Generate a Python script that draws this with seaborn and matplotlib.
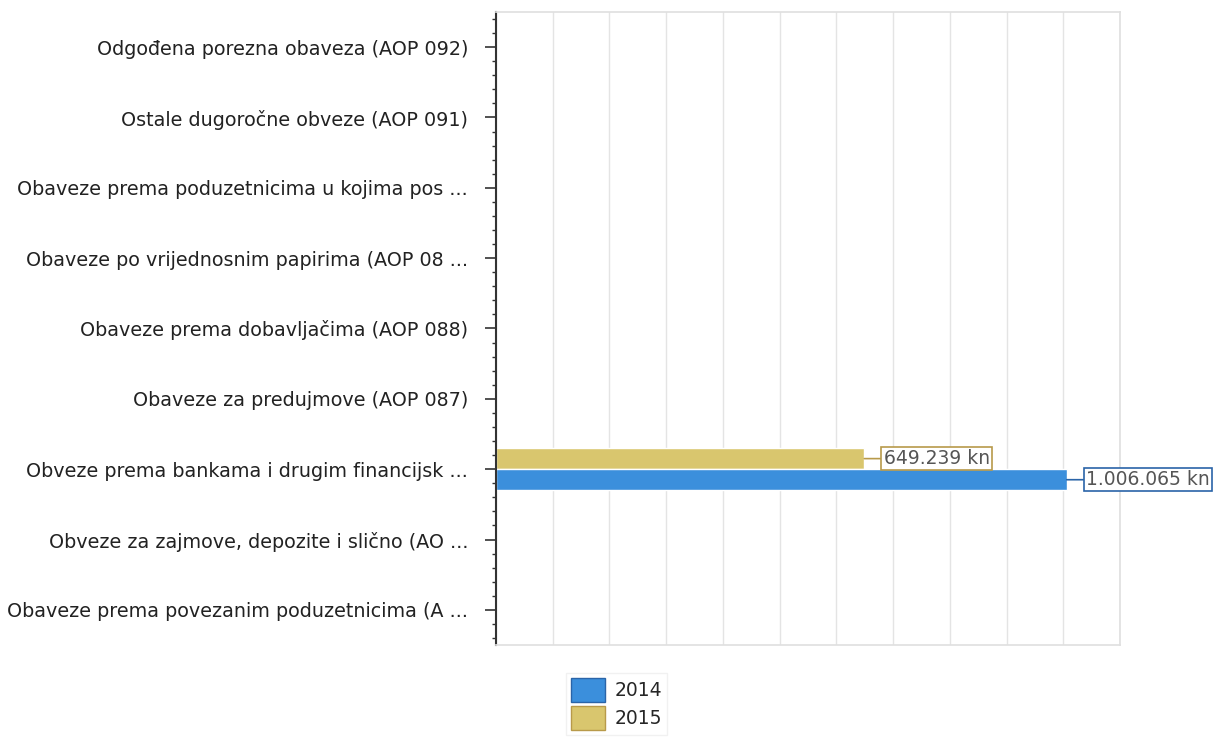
import matplotlib
matplotlib.use("Agg")
import matplotlib.pyplot as plt
import seaborn as sns
import pandas as pd
from matplotlib.patches import Patch
from matplotlib.ticker import MultipleLocator, AutoMinorLocator

categories = [
    "Odgođena porezna obaveza (AOP 092)",
    "Ostale dugoročne obveze (AOP 091)",
    "Obaveze prema poduzetnicima u kojima pos ...",
    "Obaveze po vrijednosnim papirima (AOP 08 ...",
    "Obaveze prema dobavljačima (AOP 088)",
    "Obaveze za predujmove (AOP 087)",
    "Obveze prema bankama i drugim financijsk ...",
    "Obveze za zajmove, depozite i slično (AO ...",
    "Obaveze prema povezanim poduzetnicima (A ...",
]
values_2014 = [0, 0, 0, 0, 0, 0, 1006065, 0, 0]
values_2015 = [0, 0, 0, 0, 0, 0, 649239, 0, 0]
years = ["2014", "2015"]
labels_2014 = ["", "", "", "", "", "", "1.006.065 kn", "", ""]
labels_2015 = ["", "", "", "", "", "", "649.239 kn", "", ""]

colors = {"2014": "#3b8fdc", "2015": "#d9c66e"}
edge_colors = {"2014": "#2a64a8", "2015": "#b89a4a"}

df = pd.DataFrame({
    "category": categories * 2,
    "value": values_2014 + values_2015,
    "year": ["2014"] * len(categories) + ["2015"] * len(categories),
})

sns.set_theme(style="white")
plt.rcParams['font.family'] = ['DejaVu Sans']

fig = plt.figure(figsize=(12.25, 7.43), dpi=100)
ax = fig.add_axes([496/1225, 1 - 645/743, (1120-496)/1225, (645-12)/743])

sns.barplot(data=df, y="category", x="value", hue="year", order=categories,
            hue_order=["2015", "2014"], palette=colors, orient="h",
            width=0.6, ax=ax, legend=False, saturation=1)

ax.set_xlim(0, 1100000)
ax.set_ylim(len(categories) - 0.5, -0.5)
ax.xaxis.set_major_locator(MultipleLocator(100000))
ax.set_xticklabels([])
ax.tick_params(axis="x", length=0)
ax.grid(axis="x", color="#e4e4e4", linewidth=1)
ax.set_axisbelow(True)
ax.set_xlabel("")
ax.set_ylabel("")

ax.yaxis.set_minor_locator(AutoMinorLocator(5))
ax.tick_params(axis="y", which="major", length=8, width=1.2, color="#333333",
               labelsize=13.8, labelcolor="#222222", pad=12, left=True)
ax.tick_params(axis="y", which="minor", length=3, width=1, color="#333333", left=True)

for side in ["top", "right", "bottom"]:
    ax.spines[side].set_color("#e0e0e0")
ax.spines["left"].set_color("#333333")
ax.spines["left"].set_linewidth(1.5)

# value labels
year_order = ["2015", "2014"]
label_map = {"2014": labels_2014, "2015": labels_2015}
for cont, yr in zip(ax.containers, year_order):
    for bar, lab in zip(cont, label_map[yr]):
        if not lab:
            continue
        w = bar.get_width()
        yc = bar.get_y() + bar.get_height() / 2
        ax.annotate(lab, xy=(w, yc), xytext=(14, 0),
                    textcoords="offset points", fontsize=13.5, color="#555555",
                    va="center", ha="left", annotation_clip=False,
                    bbox=dict(boxstyle="square,pad=0.12", fc="white",
                              ec=edge_colors[yr], lw=1.2),
                    arrowprops=dict(arrowstyle="-", color=edge_colors[yr], lw=1.2,
                                    shrinkA=0, shrinkB=0))

handles = [Patch(facecolor=colors[y], edgecolor=edge_colors[y], label=y) for y in years]
fig.legend(handles=handles, loc="upper left", bbox_to_anchor=(557/1225, 1 - 664/743),
           frameon=True, fontsize=13.5, handlelength=1.8, handleheight=1.6,
           borderpad=0.25, labelspacing=0.2, handletextpad=0.5, edgecolor="#eeeeee",
           fancybox=False)

fig.savefig("out.png", dpi=100, facecolor="white")
